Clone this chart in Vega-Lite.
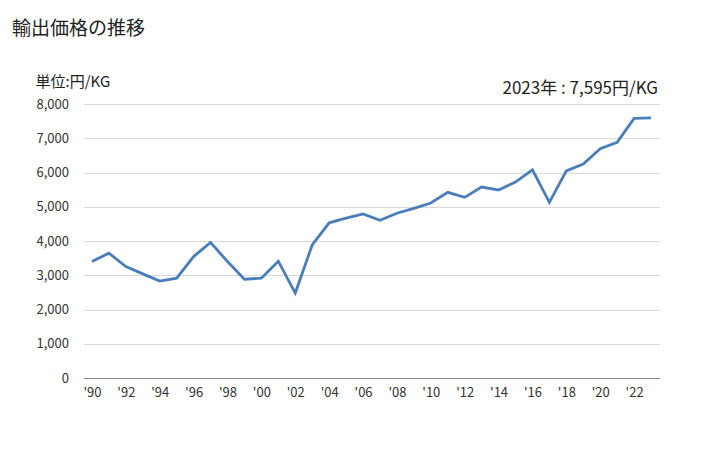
{
  "$schema": "https://vega.github.io/schema/vega-lite/v6.json",
  "width": 576,
  "height": 274,
  "autosize": {"type": "none"},
  "padding": {"left": 83.5, "top": 104, "right": 68.5, "bottom": 72},
  "background": "white",
  "title": {
    "text": "輸出価格の推移",
    "anchor": "start",
    "frame": "group",
    "dx": -71.5,
    "dy": -31,
    "font": "Noto Sans CJK JP",
    "fontSize": 19,
    "fontWeight": "normal",
    "color": "#222222"
  },
  "data": {
    "values": [
      {"year": 1990, "value": 3400},
      {"year": 1991, "value": 3645},
      {"year": 1992, "value": 3255},
      {"year": 1993, "value": 3040},
      {"year": 1994, "value": 2830},
      {"year": 1995, "value": 2915},
      {"year": 1996, "value": 3545},
      {"year": 1997, "value": 3955},
      {"year": 1998, "value": 3400},
      {"year": 1999, "value": 2885},
      {"year": 2000, "value": 2915},
      {"year": 2001, "value": 3410},
      {"year": 2002, "value": 2480},
      {"year": 2003, "value": 3885},
      {"year": 2004, "value": 4530},
      {"year": 2005, "value": 4665},
      {"year": 2006, "value": 4790},
      {"year": 2007, "value": 4605},
      {"year": 2008, "value": 4810},
      {"year": 2009, "value": 4955},
      {"year": 2010, "value": 5110},
      {"year": 2011, "value": 5420},
      {"year": 2012, "value": 5275},
      {"year": 2013, "value": 5575},
      {"year": 2014, "value": 5490},
      {"year": 2015, "value": 5720},
      {"year": 2016, "value": 6080},
      {"year": 2017, "value": 5130},
      {"year": 2018, "value": 6045},
      {"year": 2019, "value": 6250},
      {"year": 2020, "value": 6695},
      {"year": 2021, "value": 6880},
      {"year": 2022, "value": 7580},
      {"year": 2023, "value": 7595}
    ]
  },
  "mark": {"type": "line", "color": "#4a7ebb", "strokeWidth": 2.8},
  "encoding": {
    "x": {
      "field": "year",
      "type": "ordinal",
      "scale": {"type": "point", "padding": 0.5},
      "axis": {
        "title": "2023年 : 7,595円/KG",
        "titleX": 574,
        "titleY": -285,
        "titleAlign": "right",
        "titleBaseline": "alphabetic",
        "titleAnchor": null,
        "titleFont": "Noto Sans CJK JP",
        "titleFontSize": 17,
        "titleFontWeight": "normal",
        "titleColor": "#222222",
        "labelAngle": 0,
        "labelExpr": "datum.value % 2 == 0 ? \"'\" + slice(toString(datum.value), 2) : ''",
        "labelFont": "Noto Sans CJK JP",
        "labelFontSize": 13,
        "labelColor": "#333333",
        "labelPadding": 8,
        "ticks": false,
        "grid": false,
        "domainColor": "#888888",
        "domainWidth": 1
      }
    },
    "y": {
      "field": "value",
      "type": "quantitative",
      "scale": {"domain": [0, 8000]},
      "axis": {
        "values": [0, 1000, 2000, 3000, 4000, 5000, 6000, 7000, 8000],
        "format": ",d",
        "title": "単位:円/KG",
        "titleAngle": 0,
        "titleX": -48.5,
        "titleY": -18,
        "titleAlign": "left",
        "titleBaseline": "alphabetic",
        "titleAnchor": null,
        "titleFont": "Noto Sans CJK JP",
        "titleFontSize": 15,
        "titleFontWeight": "normal",
        "titleColor": "#222222",
        "labelFont": "Noto Sans CJK JP",
        "labelFontSize": 13,
        "labelColor": "#333333",
        "labelPadding": 15,
        "ticks": false,
        "domain": false,
        "gridColor": "#d9d9d9",
        "gridWidth": 1
      }
    }
  },
  "config": {
    "view": {"stroke": null}
  }
}
